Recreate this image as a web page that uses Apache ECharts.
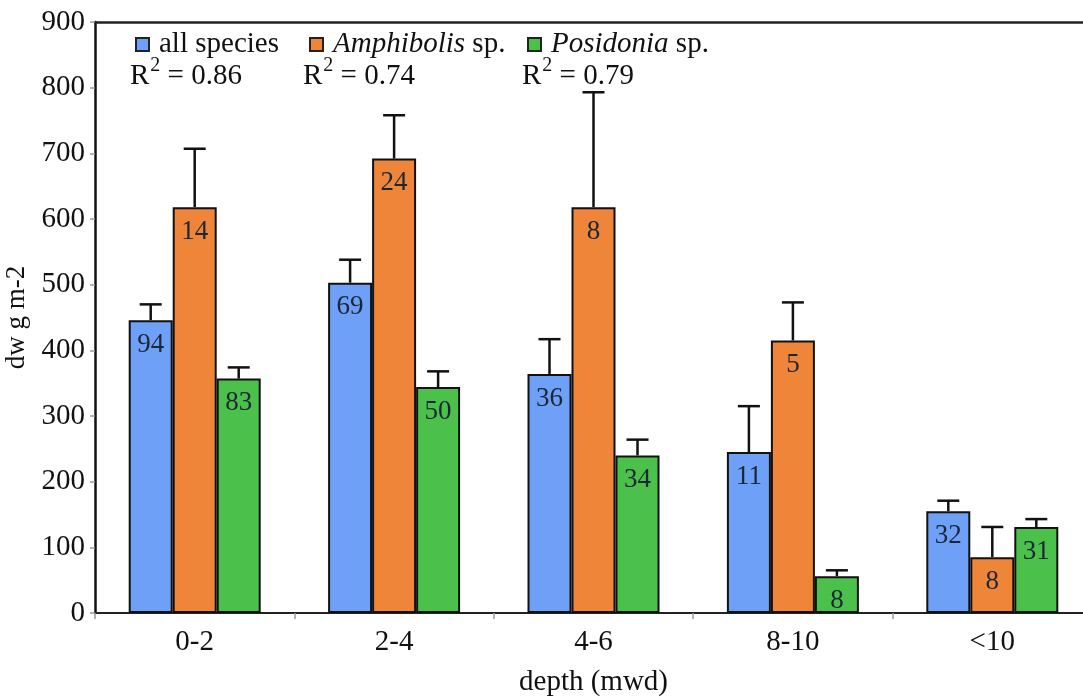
<!DOCTYPE html>
<html>
<head>
<meta charset="utf-8">
<script src="https://cdn.jsdelivr.net/npm/echarts@6/dist/echarts.min.js"></script>
<style>
  html, body { margin: 0; padding: 0; background: #fff; font-family: "Liberation Serif", serif; }
  #chart { width: 1083px; height: 699px; }
</style>
</head>
<body>
<div id="chart"></div>
<script>
// 数据
var categories = ['0-2', '2-4', '4-6', '8-10', '<10'];
var allSpecies = [446, 503, 364, 245, 155];
var allSpeciesErr = [24, 35, 53, 70, 16];
var allSpeciesN = [94, 69, 36, 11, 32];
var amphibolis = [618, 692, 618, 415, 85];
var amphibolisErr = [89, 66, 175, 58, 46];
var amphibolisN = [14, 24, 8, 5, 8];
var posidonia = [357, 344, 240, 56, 131];
var posidoniaErr = [17, 24, 24, 9, 12];
var posidoniaN = [83, 50, 34, 8, 31];
var yTicks = [0, 100, 200, 300, 400, 500, 600, 700, 800, 900];

var FONT = '"Liberation Serif", "Times New Roman", "DejaVu Serif", serif';
var BAR_W = 44;
var colors = ['#6fa0f7', '#ef8538', '#4bc14b'];

function barSeries(name, values, counts, color) {
    return {
        name: name,
        type: 'bar',
        data: values,
        barWidth: BAR_W,
        barGap: '0%',
        itemStyle: { color: color, borderColor: '#111', borderWidth: 2 },
        label: {
            show: true,
            position: 'insideTop',
            distance: 11,
            fontFamily: FONT,
            fontSize: 27,
            color: '#1b2735',
            formatter: function (p) { return counts[p.dataIndex]; }
        },
        z: 2
    };
}

// 误差线
function errSeries(values, errs, idx) {
    var data = values.map(function (v, i) { return [i, v, v + errs[i]]; });
    return {
        type: 'custom',
        data: data,
        z: 1,
        renderItem: function (params, api) {
            var base = api.coord([api.value(0), api.value(1)]);
            var top = api.coord([api.value(0), api.value(2)]);
            var x = base[0] + (idx - 1) * BAR_W;
            var style = { stroke: '#111', lineWidth: 2.5 };
            return {
                type: 'group',
                children: [
                    { type: 'line', shape: { x1: x, y1: base[1], x2: x, y2: top[1] }, style: style },
                    { type: 'line', shape: { x1: x - 11, y1: top[1], x2: x + 11, y2: top[1] }, style: style }
                ]
            };
        }
    };
}

function legendItem(name, left, italic) {
    return {
        data: [name],
        left: left,
        top: 25,
        icon: 'rect',
        itemWidth: 13,
        itemHeight: 13,
        itemGap: 0,
        selectedMode: false,
        itemStyle: { borderColor: '#222', borderWidth: 2 },
        textStyle: {
            fontFamily: FONT,
            fontSize: 29,
            color: '#111',
            padding: [0, 0, 0, 5],
            rich: {
                i: { fontFamily: FONT, fontSize: 29, fontStyle: 'italic', color: '#111' },
                r: { fontFamily: FONT, fontSize: 29, color: '#111' }
            }
        },
        formatter: function (n) {
            if (!italic) return n;
            var parts = n.split(' ');
            return '{i|' + parts[0] + '}{r| ' + parts[1] + '}';
        }
    };
}

function r2Text(left, val) {
    return {
        type: 'text',
        left: left,
        top: 56,
        style: {
            text: '{r|R}{s|2}{r| = ' + val + '}',
            fontFamily: FONT,
            rich: {
                r: { fontFamily: FONT, fontSize: 29, fill: '#111', verticalAlign: 'bottom' },
                s: { fontFamily: FONT, fontSize: 20, fill: '#111', verticalAlign: 'top', padding: [0, 0, 15, 1] }
            }
        }
    };
}

var option = {
    backgroundColor: '#fff',
    animation: false,
    textStyle: { fontFamily: FONT },
    grid: { left: 95, top: 22, width: 997, height: 591, outerBoundsMode: 'none', containLabel: false },
    legend: [
        legendItem('all species', 130, false),
        legendItem('Amphibolis sp.', 304, true),
        legendItem('Posidonia sp.', 522, true)
    ],
    graphic: [
        r2Text(130, '0.86'),
        r2Text(303, '0.74'),
        r2Text(522, '0.79')
    ],
    xAxis: [{
        type: 'category',
        data: categories,
        name: 'depth (mwd)',
        nameLocation: 'middle',
        nameGap: 55,
        nameTextStyle: { fontFamily: FONT, fontSize: 29, color: '#111' },
        axisLine: { lineStyle: { color: '#222', width: 2 } },
        axisTick: { show: true, length: 6, lineStyle: { color: '#999', width: 1.5 } },
        axisLabel: { fontFamily: FONT, fontSize: 29, color: '#111', margin: 15 }
    }, {
        type: 'category',
        data: categories,
        position: 'top',
        axisLine: { lineStyle: { color: '#222', width: 2.5 } },
        axisTick: { show: false },
        axisLabel: { show: false }
    }],
    yAxis: {
        type: 'value',
        min: yTicks[0],
        max: yTicks[yTicks.length - 1],
        interval: 100,
        name: 'dw g m-2',
        nameLocation: 'middle',
        nameGap: 59,
        nameTextStyle: { fontFamily: FONT, fontSize: 27, color: '#111' },
        axisLine: { show: true, lineStyle: { color: '#111', width: 2.5 } },
        axisTick: { show: true, length: 5, lineStyle: { color: '#999', width: 1.5 } },
        axisLabel: { fontFamily: FONT, fontSize: 29, color: '#111', margin: 10 },
        splitLine: { show: false }
    },
    series: [
        barSeries('all species', allSpecies, allSpeciesN, colors[0]),
        barSeries('Amphibolis sp.', amphibolis, amphibolisN, colors[1]),
        barSeries('Posidonia sp.', posidonia, posidoniaN, colors[2]),
        errSeries(allSpecies, allSpeciesErr, 0),
        errSeries(amphibolis, amphibolisErr, 1),
        errSeries(posidonia, posidoniaErr, 2)
    ]
};

var myChart = echarts.init(document.getElementById('chart'));
myChart.setOption(option);
</script>
</body>
</html>
